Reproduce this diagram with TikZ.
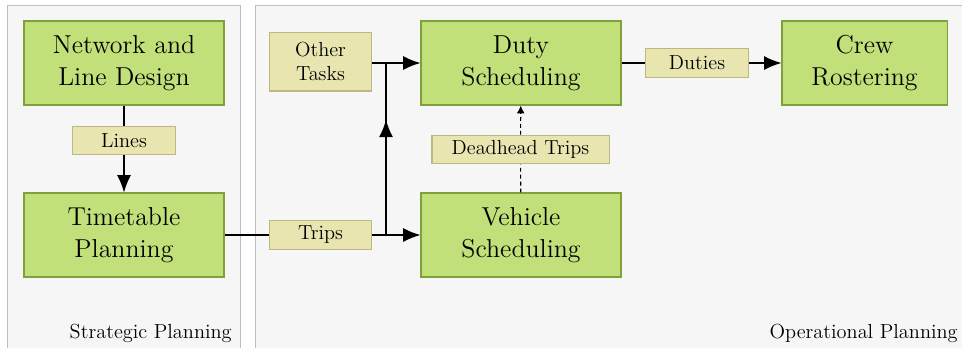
\documentclass[tikz,border=0pt]{standalone}
\usetikzlibrary{arrows.meta,decorations.markings}
\definecolor{boxgreen}{RGB}{194,224,122}
\definecolor{boxgreenb}{RGB}{128,160,60}
\definecolor{lblfill}{RGB}{232,229,176}
\definecolor{lblline}{RGB}{188,184,128}
\definecolor{panelfill}{RGB}{246,246,246}
\definecolor{panelline}{RGB}{190,190,190}
\tikzset{
  big/.style={draw=boxgreenb, fill=boxgreen, line width=0.6pt, align=center,
    minimum width=115pt, minimum height=48.3pt, inner sep=0pt,
    font=\fontsize{14.9}{18.5}\selectfont},
  lbl/.style={draw=lblline, fill=lblfill, line width=0.6pt, align=center,
    minimum width=58.7pt, minimum height=16.4pt, inner sep=0pt,
    font=\fontsize{11.7}{14}\selectfont},
  panel/.style={draw=panelline, fill=panelfill, line width=0.6pt},
  arr/.style={line width=0.7pt, -{Latex[length=10pt,width=8pt]}},
  conn/.style={line width=0.7pt},
  midarr/.style={line width=0.7pt, postaction={decorate},
    decoration={markings, mark=at position 0.67 with {\arrow{Latex[length=10pt,width=8pt]}}}},
  dasharr/.style={line width=0.65pt, dash pattern=on 2.2pt off 1.8pt, -{Latex[length=4.5pt,width=4.5pt]}},
  ptitle/.style={font=\fontsize{11.7}{14}\selectfont, inner sep=0pt},
}
\begin{document}
\begin{tikzpicture}[x=0.575pt, y=-0.575pt]
\useasboundingbox (0,0) rectangle (962,347);
\fill[white] (0,0) rectangle (962,347);
\begin{scope}
\clip (0,0) rectangle (962,347);
\draw[panel] (7.5,5.5) rectangle (240.5,360);
\draw[panel] (255.5,5.5) rectangle (980,360);
\end{scope}

\node[big] (net) at (124,63) {Network and\\Line Design};
\node[big] (tt) at (124,235) {Timetable\\Planning};
\node[big] (duty) at (521,63) {Duty\\Scheduling};
\node[big] (veh) at (521,235) {Vehicle\\Scheduling};
\node[big, minimum width=94.9pt] (crew) at (864.5,63) {Crew\\Rostering};

\node[lbl] (lines) at (124,140.5) {Lines};
\node[lbl, minimum height=33.9pt] (other) at (320.5,61.5) {Other\\Tasks};
\node[lbl] (trips) at (320.5,235) {Trips};
\node[lbl, minimum width=101.8pt] (dead) at (520.5,149.5) {Deadhead Trips};
\node[lbl] (duties) at (697,63) {Duties};

\node[ptitle, anchor=base east] (strat) at (232,338) {Strategic Planning};
\node[ptitle, anchor=base east] (oper) at (958,338) {Operational Planning};

\draw[arr] (net) -- (lines) -- (tt);
\draw[conn] (tt) -- (trips);
\draw[arr] (trips) -- (veh);
\coordinate (jb) at (386,235);
\coordinate (jt) at (386,63);
\draw[midarr] (jb) -- (jt);
\draw[arr] (other.east |- duty.west) -- (duty.west);
\draw[dasharr] (veh) -- (dead) -- (duty);
\draw[arr] (duty) -- (duties) -- (crew);
\end{tikzpicture}
\end{document}
